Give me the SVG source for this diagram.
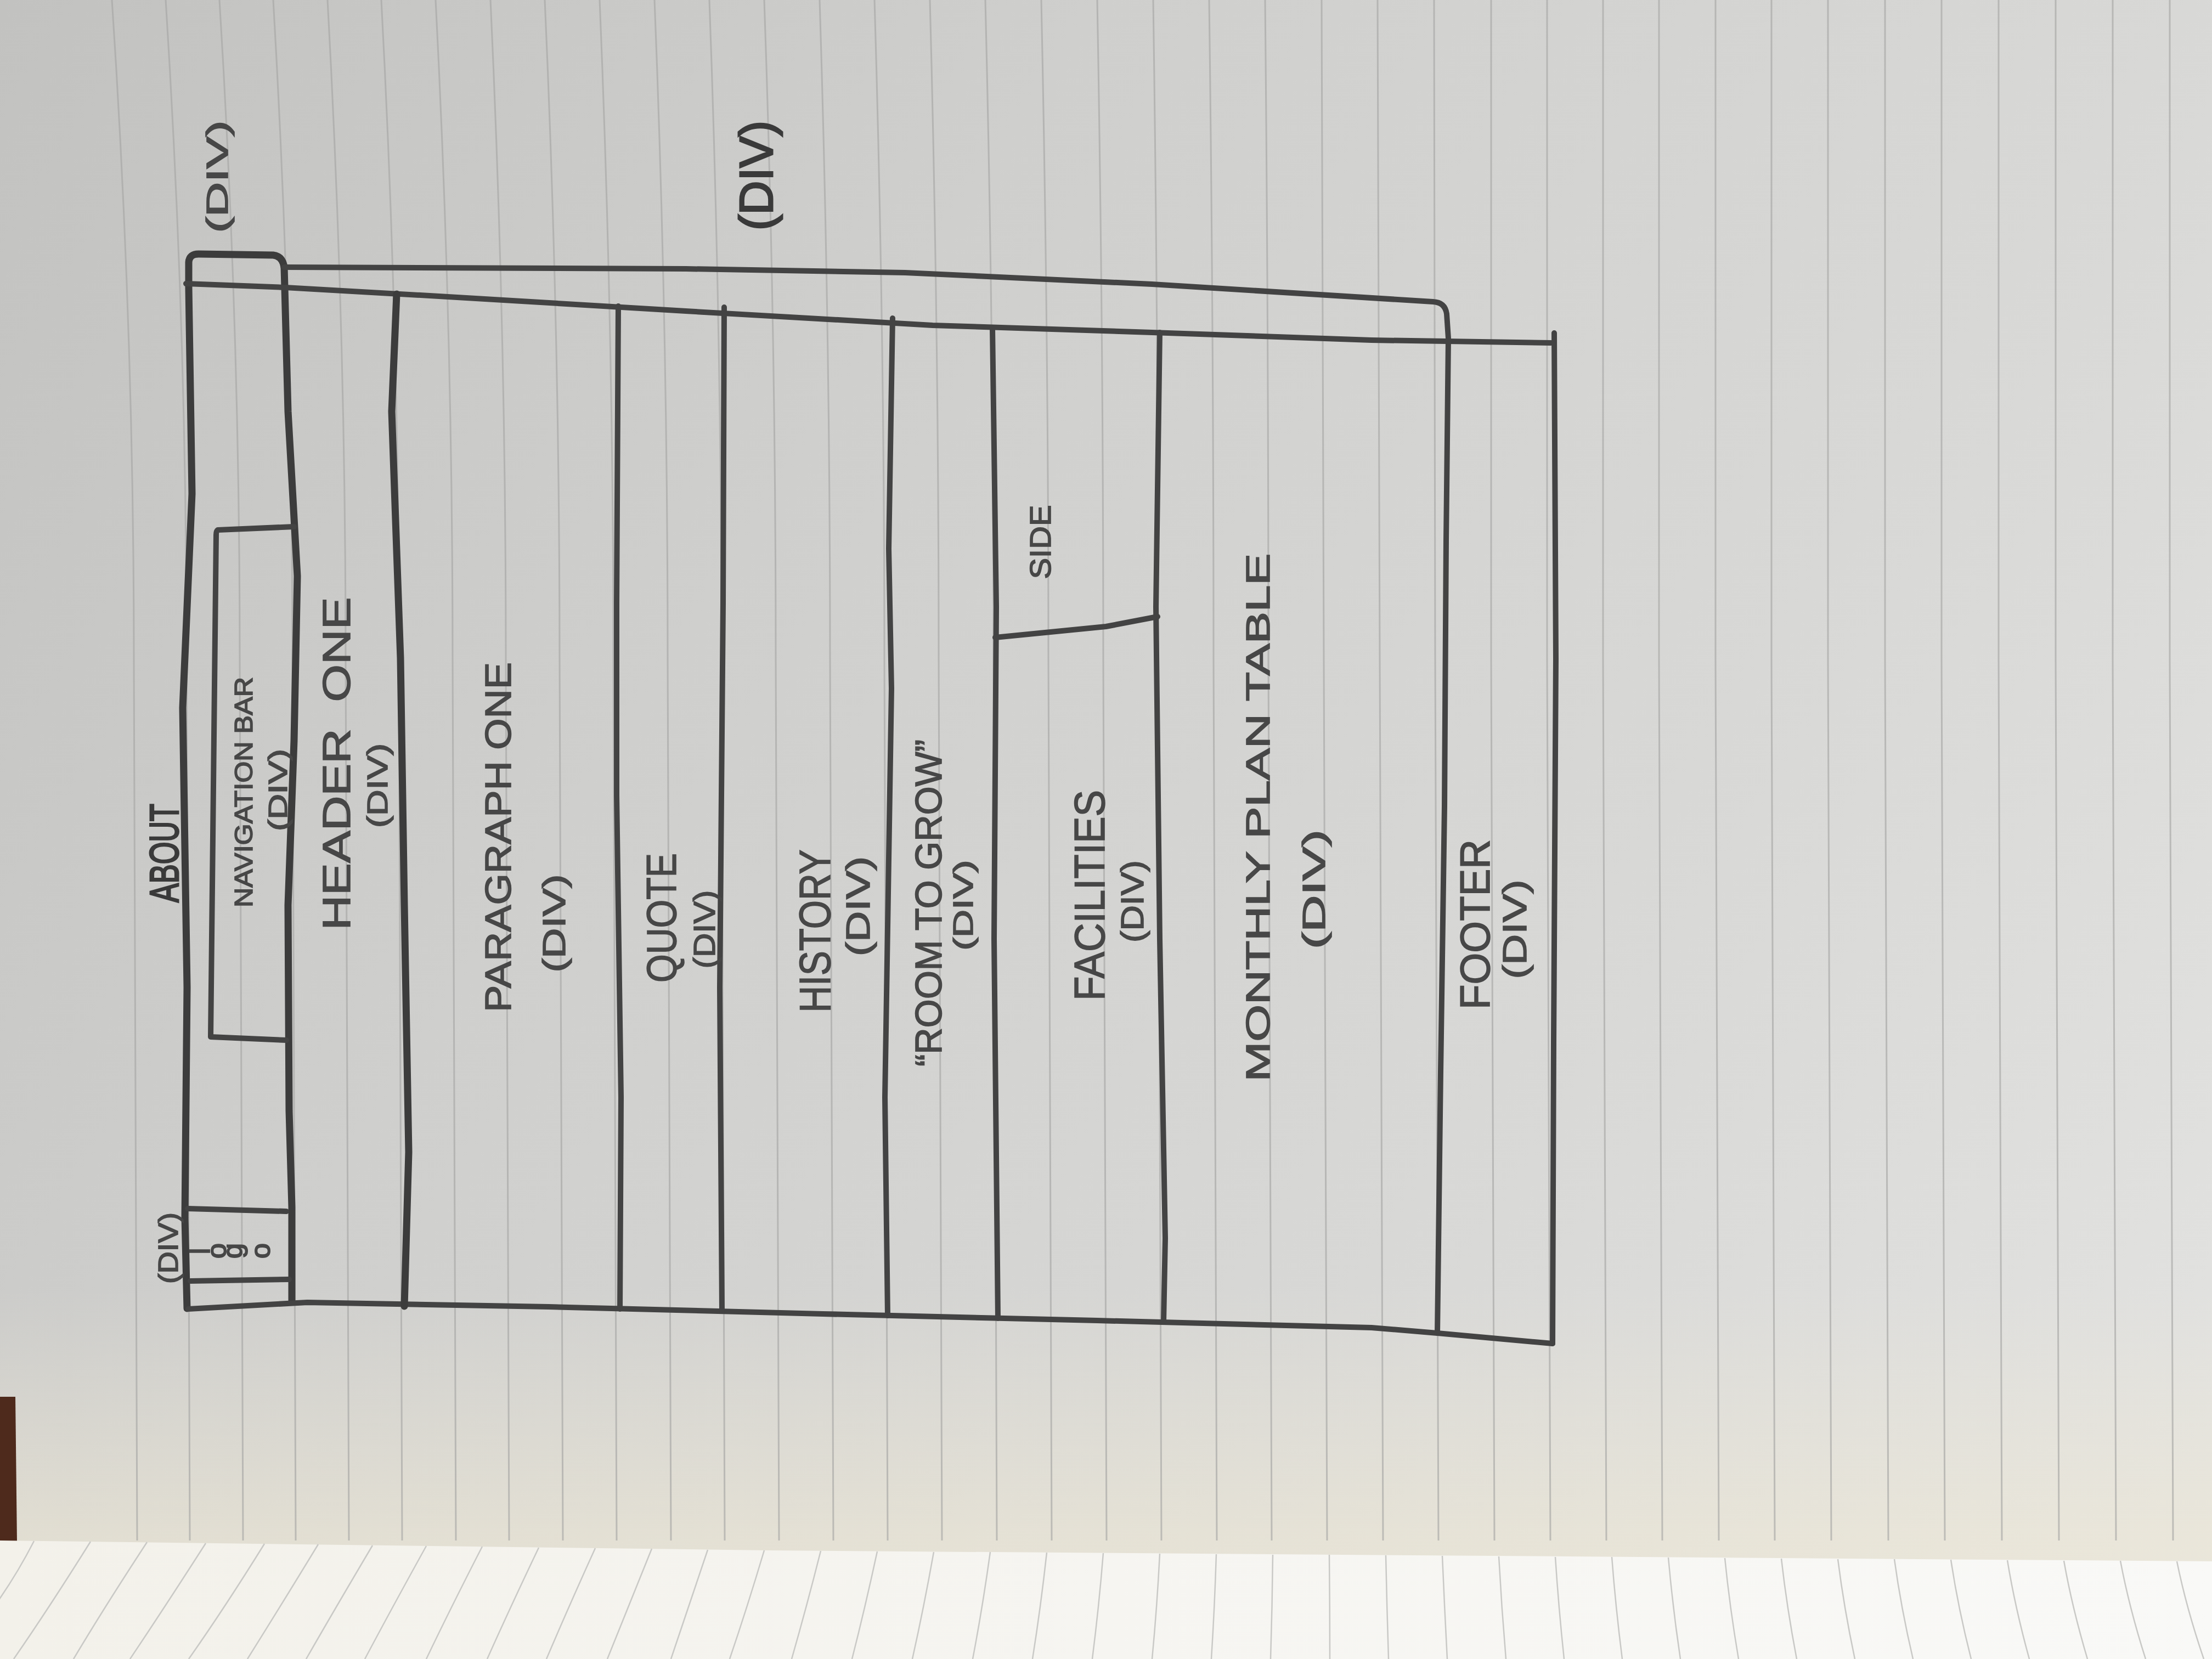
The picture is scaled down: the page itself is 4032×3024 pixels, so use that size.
<svg xmlns="http://www.w3.org/2000/svg" width="4032" height="3024" viewBox="0 0 4032 3024">
  <style>
    .rule { fill: none; stroke: #a6a6a4; stroke-width: 3; opacity: 0.65; }
    .rule2 { fill: none; stroke: #c9c9c6; stroke-width: 2.5; }
    .pen { fill: none; stroke: #434343; stroke-width: 10; stroke-linecap: round; stroke-linejoin: round; }
    .pen-heavy { fill: none; stroke: #3c3c3c; stroke-width: 13; stroke-linecap: round; stroke-linejoin: round; }
    .lbl { font-family: "Liberation Sans", Arial, sans-serif; fill: #474747; stroke: #474747; stroke-width: 1.6; text-anchor: middle; dominant-baseline: central; }
    .bold { fill: #3a3a3a; stroke: #3a3a3a; stroke-width: 3; }
  </style>
  <defs>
    <linearGradient id="paperShade" x1="0" y1="0" x2="4032" y2="2600" gradientUnits="userSpaceOnUse">
      <stop offset="0" stop-color="#c2c2c0"/>
      <stop offset="0.35" stop-color="#cfcfcd"/>
      <stop offset="0.7" stop-color="#d8d8d6"/>
      <stop offset="1" stop-color="#e2e2e0"/>
    </linearGradient>
    <linearGradient id="warmEdge" x1="0" y1="2350" x2="0" y2="2810" gradientUnits="userSpaceOnUse">
      <stop offset="0" stop-color="#ebe6d6" stop-opacity="0"/>
      <stop offset="1" stop-color="#efe9d6" stop-opacity="0.6"/>
    </linearGradient>
    <linearGradient id="lowerPage" x1="0" y1="0" x2="4032" y2="0" gradientUnits="userSpaceOnUse">
      <stop offset="0" stop-color="#f3f1ea"/>
      <stop offset="0.5" stop-color="#f6f5f1"/>
      <stop offset="1" stop-color="#f9f9f7"/>
    </linearGradient>
  </defs>

  <!-- notebook paper -->
  <g id="paper">
    <rect x="0" y="0" width="4032" height="3024" fill="url(#paperShade)"/>
    <rect x="0" y="2350" width="4032" height="500" fill="url(#warmEdge)"/>
    <polygon points="0,2546 28,2546 31,2812 0,2812" fill="#4e2a1c"/>
  </g>

  <!-- ruled lines of the open page -->
  <g id="ruling">
    <path class="rule" d="M204,0 Q244,600 244,1200 L250,2808"/>
    <path class="rule" d="M302,0 Q340,600 340,1200 L346,2808"/>
    <path class="rule" d="M400,0 Q437,600 437,1200 L443,2808"/>
    <path class="rule" d="M498,0 Q533,600 533,1200 L539,2808"/>
    <path class="rule" d="M597,0 Q630,600 630,1200 L636,2808"/>
    <path class="rule" d="M695,0 Q727,600 727,1200 L733,2808"/>
    <path class="rule" d="M794,0 Q825,600 825,1200 L831,2808"/>
    <path class="rule" d="M894,0 Q922,600 922,1200 L928,2808"/>
    <path class="rule" d="M993,0 Q1020,600 1020,1200 L1026,2808"/>
    <path class="rule" d="M1093,0 Q1118,600 1118,1200 L1124,2808"/>
    <path class="rule" d="M1193,0 Q1217,600 1217,1200 L1223,2808"/>
    <path class="rule" d="M1293,0 Q1315,600 1315,1200 L1321,2808"/>
    <path class="rule" d="M1393,0 Q1414,600 1414,1200 L1420,2808"/>
    <path class="rule" d="M1494,0 Q1513,600 1513,1200 L1519,2808"/>
    <path class="rule" d="M1594,0 Q1612,600 1612,1200 L1618,2808"/>
    <path class="rule" d="M1695,0 Q1711,600 1711,1200 L1717,2808"/>
    <path class="rule" d="M1796,0 Q1811,600 1811,1200 L1817,2808"/>
    <path class="rule" d="M1898,0 Q1911,600 1911,1200 L1917,2808"/>
    <path class="rule" d="M2000,0 Q2011,600 2011,1200 L2017,2808"/>
    <path class="rule" d="M2102,0 Q2111,600 2111,1200 L2117,2808"/>
    <path class="rule" d="M2204,0 Q2212,600 2212,1200 L2218,2808"/>
    <path class="rule" d="M2306,0 Q2312,600 2312,1200 L2318,2808"/>
    <path class="rule" d="M2409,0 Q2413,600 2413,1200 L2419,2808"/>
    <path class="rule" d="M2511,0 Q2515,600 2515,1200 L2521,2808"/>
    <path class="rule" d="M2614,0 Q2616,600 2616,1200 L2622,2808"/>
    <path class="rule" d="M2718,0 L2718,1200 L2724,2808"/>
    <path class="rule" d="M2820,0 L2820,1200 L2826,2808"/>
    <path class="rule" d="M2922,0 L2922,1200 L2928,2808"/>
    <path class="rule" d="M3024,0 L3024,1200 L3030,2808"/>
    <path class="rule" d="M3127,0 L3127,1200 L3133,2808"/>
    <path class="rule" d="M3229,0 L3229,1200 L3235,2808"/>
    <path class="rule" d="M3332,0 L3332,1200 L3338,2808"/>
    <path class="rule" d="M3436,0 L3436,1200 L3442,2808"/>
    <path class="rule" d="M3539,0 L3539,1200 L3545,2808"/>
    <path class="rule" d="M3643,0 L3643,1200 L3649,2808"/>
    <path class="rule" d="M3747,0 L3747,1200 L3753,2808"/>
    <path class="rule" d="M3851,0 L3851,1200 L3857,2808"/>
    <path class="rule" d="M3955,0 L3955,1200 L3961,2808"/>
  </g>

  <!-- facing page at the bottom -->
  <g id="lower-page">
    <polygon points="0,2808 1400,2826 4032,2846 4032,3024 0,3024" fill="url(#lowerPage)"/>
    <path class="rule2" d="M62,2809 Q0,2930 -90,3024"/>
    <path class="rule2" d="M165,2810 Q90,2930 25,3024"/>
    <path class="rule2" d="M268,2811 Q190,2930 134,3024"/>
    <path class="rule2" d="M375,2813 Q300,2930 237,3024"/>
    <path class="rule2" d="M482,2814 Q410,2930 344,3024"/>
    <path class="rule2" d="M580,2815 Q510,2930 451,3024"/>
    <path class="rule2" d="M679,2817 Q612,2930 558,3024"/>
    <path class="rule2" d="M777,2818 Q715,2930 665,3024"/>
    <path class="rule2" d="M879,2819 Q822,2930 777,3024"/>
    <path class="rule2" d="M982,2821 Q930,2930 888,3024"/>
    <path class="rule2" d="M1085,2822 Q1036,2930 996,3024"/>
    <path class="rule2" d="M1188,2823 Q1145,2930 1107,3024"/>
    <path class="rule2" d="M1290,2825 Q1255,2930 1223,3024"/>
    <path class="rule2" d="M1393,2826 Q1362,2930 1330,3024"/>
    <path class="rule2" d="M1496,2827 Q1470,2930 1443,3024"/>
    <path class="rule2" d="M1599,2828 Q1577,2930 1553,3024"/>
    <path class="rule2" d="M1702,2829 Q1684,2930 1663,3024"/>
    <path class="rule2" d="M1805,2829 Q1791,2930 1773,3024"/>
    <path class="rule2" d="M1908,2830 Q1897,2930 1882,3024"/>
    <path class="rule2" d="M2011,2831 Q2003,2930 1991,3024"/>
    <path class="rule2" d="M2114,2832 Q2109,2930 2100,3024"/>
    <path class="rule2" d="M2217,2833 Q2214,2930 2208,3024"/>
    <path class="rule2" d="M2320,2834 Q2319,2930 2316,3024"/>
    <path class="rule2" d="M2423,2834 Q2424,2930 2424,3024"/>
    <path class="rule2" d="M2526,2835 Q2528,2930 2531,3024"/>
    <path class="rule2" d="M2629,2836 Q2633,2930 2638,3024"/>
    <path class="rule2" d="M2732,2837 Q2737,2930 2745,3024"/>
    <path class="rule2" d="M2835,2838 Q2841,2930 2851,3024"/>
    <path class="rule2" d="M2938,2838 Q2945,2930 2957,3024"/>
    <path class="rule2" d="M3041,2839 Q3049,2930 3063,3024"/>
    <path class="rule2" d="M3144,2840 Q3153,2930 3169,3024"/>
    <path class="rule2" d="M3247,2841 Q3257,2930 3275,3024"/>
    <path class="rule2" d="M3350,2842 Q3361,2930 3381,3024"/>
    <path class="rule2" d="M3453,2842 Q3465,2930 3487,3024"/>
    <path class="rule2" d="M3556,2843 Q3569,2930 3593,3024"/>
    <path class="rule2" d="M3659,2844 Q3673,2930 3699,3024"/>
    <path class="rule2" d="M3762,2845 Q3777,2930 3805,3024"/>
    <path class="rule2" d="M3865,2845 Q3881,2930 3911,3024"/>
    <path class="rule2" d="M3968,2846 Q3985,2930 4017,3024"/>
  </g>

  <!-- outer frame of the page layout -->
  <g id="frame">
    <path class="pen-heavy" d="M341,2385 L337,2220 L341,1800 L333,1290 L350,900 L344,525 L344,478 Q345,463 362,463 L498,465 Q515,467 518,487"/>
    <path class="pen-heavy" d="M518,487 L525,750 L542,1050 L536,1350 L525,1650 L527,2025 L532,2200 L532,2372"/>
    <path class="pen" d="M518,487 L1250,490 L1650,497 L2100,518 L2612,550 Q2634,551 2637,572 L2640,617 L2636,985 L2633,1470 L2626,1954 L2620,2430"/>
    <path class="pen" d="M339,517 L520,524 L800,540 L1250,567 L1700,593 L2100,606 L2500,620 L2827,625"/>
    <path class="pen" d="M2833,607 L2836,1200 L2832,1900 L2830,2449"/>
    <path class="pen" d="M343,2386 L560,2374 L1000,2382 L1500,2395 L2000,2407 L2500,2420 L2620,2430 L2830,2449"/>
    <path class="pen-heavy" d="M723,536 L714,750 L730,1200 L737,1650 L745,2100 L737,2381"/>
    <path class="pen" d="M1127,558 L1124,1100 L1124,1450 L1132,2000 L1130,2386"/>
    <path class="pen" d="M1320,560 L1318,1100 L1312,1800 L1316,2390"/>
    <path class="pen" d="M1627,580 L1620,1000 L1625,1255 L1613,2000 L1618,2398"/>
    <path class="pen" d="M1809,598 L1816,1106 L1812,1712 L1819,2403"/>
    <path class="pen" d="M2114,606 L2107,1106 L2114,1712 L2124,2257 L2121,2410"/>
  </g>

  <g id="page-title">
    <text class="lbl bold" font-size="74" textLength="180" lengthAdjust="spacingAndGlyphs" transform="translate(299 1555) rotate(-90)">ABOUT</text>
  </g>

  <g id="wrapper-div-top">
    <text class="lbl" font-size="56" textLength="205" lengthAdjust="spacingAndGlyphs" transform="translate(395 322) rotate(-90)">(DIV)</text>
  </g>

  <g id="wrapper-div-main">
    <text class="lbl bold" font-size="86" textLength="200" lengthAdjust="spacingAndGlyphs" transform="translate(1378 320) rotate(-90)">(DIV)</text>
  </g>

  <g id="navigation-bar">
    <path class="pen" d="M536,960 L397,966 Q394,968 394,975 L384,1890 L522,1896"/>
    <text class="lbl" font-size="46" textLength="420" lengthAdjust="spacingAndGlyphs" transform="translate(444 1444) rotate(-90)">NAVIGATION BAR</text>
    <text class="lbl" font-size="48" textLength="150" lengthAdjust="spacingAndGlyphs" transform="translate(506 1440) rotate(-90)">(DIV)</text>
  </g>

  <g id="logo">
    <path class="pen" d="M342,2203 L522,2208"/>
    <path class="pen" d="M347,2335 L527,2332"/>
    <text class="lbl" font-size="50" textLength="130" lengthAdjust="spacingAndGlyphs" transform="translate(307 2275) rotate(-90)">(DIV)</text>
    <text font-family="Liberation Sans, Arial, sans-serif" font-size="50" fill="#474747" stroke="#474747" stroke-width="2" x="382 412 441 492" y="2286 2294 2294 2294" rotate="-90">logo</text>
  </g>

  <g id="header-one">
    <text class="lbl" font-size="70" stroke-width="2.4" textLength="607" lengthAdjust="spacingAndGlyphs" transform="translate(614 1392) rotate(-90)" xml:space="preserve">HEADER  ONE</text>
    <text class="lbl" font-size="52" textLength="154" lengthAdjust="spacingAndGlyphs" transform="translate(688 1432) rotate(-90)">(DIV)</text>
  </g>

  <g id="paragraph-one">
    <text class="lbl" font-size="66" textLength="638" lengthAdjust="spacingAndGlyphs" transform="translate(908 1526) rotate(-90)">PARAGRAPH ONE</text>
    <text class="lbl" font-size="57" textLength="179" lengthAdjust="spacingAndGlyphs" transform="translate(1010 1683) rotate(-90)">(DIV)</text>
  </g>

  <g id="quote">
    <text class="lbl" font-size="76" textLength="236" lengthAdjust="spacingAndGlyphs" transform="translate(1205 1673) rotate(-90)">QUOTE</text>
    <text class="lbl" font-size="56" textLength="143" lengthAdjust="spacingAndGlyphs" transform="translate(1283 1694) rotate(-90)">(DIV)</text>
  </g>

  <g id="history">
    <text class="lbl" font-size="80" textLength="297" lengthAdjust="spacingAndGlyphs" transform="translate(1485 1697) rotate(-90)">HISTORY</text>
    <text class="lbl" font-size="62" textLength="182" lengthAdjust="spacingAndGlyphs" transform="translate(1563 1652) rotate(-90)">(DIV)</text>
  </g>

  <g id="room-to-grow">
    <text class="lbl" font-size="68" textLength="596" lengthAdjust="spacingAndGlyphs" transform="translate(1692 1646) rotate(-90)">“ROOM TO GROW”</text>
    <text class="lbl" font-size="50" textLength="165" lengthAdjust="spacingAndGlyphs" transform="translate(1756 1650) rotate(-90)">(DIV)</text>
  </g>

  <g id="side">
    <path class="pen" d="M1814,1162 L2016,1142 L2110,1124"/>
    <text class="lbl" font-size="54" textLength="135" lengthAdjust="spacingAndGlyphs" transform="translate(1896 988) rotate(-90)">SIDE</text>
  </g>

  <g id="facilities">
    <text class="lbl" font-size="78" textLength="384" lengthAdjust="spacingAndGlyphs" transform="translate(1986 1632) rotate(-90)">FACILITIES</text>
    <text class="lbl" font-size="58" textLength="150" lengthAdjust="spacingAndGlyphs" transform="translate(2063 1643) rotate(-90)">(DIV)</text>
  </g>

  <g id="monthly-plan-table">
    <text class="lbl" font-size="62" textLength="963" lengthAdjust="spacingAndGlyphs" transform="translate(2292 1490) rotate(-90)">MONTHLY PLAN TABLE</text>
    <text class="lbl" font-size="58" textLength="218" lengthAdjust="spacingAndGlyphs" transform="translate(2394 1621) rotate(-90)">(DIV)</text>
  </g>

  <g id="footer">
    <text class="lbl" font-size="76" textLength="310" lengthAdjust="spacingAndGlyphs" transform="translate(2688 1685) rotate(-90)">FOOTER</text>
    <text class="lbl" font-size="62" textLength="181" lengthAdjust="spacingAndGlyphs" transform="translate(2760 1694) rotate(-90)">(DIV)</text>
  </g>
</svg>
